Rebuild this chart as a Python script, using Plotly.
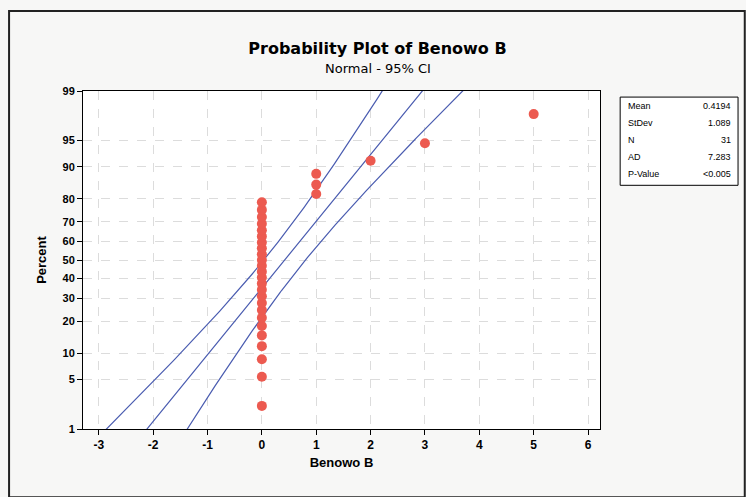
import math
import plotly.graph_objects as go

# ---- data (Benowo B, N = 31) ----
benowo_b = [0] * 25 + [1, 1, 1, 2, 3, 5]
y_tick_percent = [1, 5, 10, 20, 30, 40, 50, 60, 70, 80, 90, 95, 99]
x_tick_vals = [-3, -2, -1, 0, 1, 2, 3, 4, 5, 6]
stats_labels = ["Mean", "StDev", "N", "AD", "P-Value"]
stats_values = ["0.4194", "1.089", "31", "7.283", "<0.005"]


def norm_ppf(p):
    lo, hi = -10.0, 10.0
    for _ in range(100):
        mid = (lo + hi) / 2
        if 0.5 * (1 + math.erf(mid / math.sqrt(2))) < p:
            lo = mid
        else:
            hi = mid
    return (lo + hi) / 2


n = len(benowo_b)
data = sorted(benowo_b)
mean = sum(data) / n
sd = math.sqrt(sum((v - mean) ** 2 for v in data) / (n - 1))
# median-rank plotting positions
pp = [(i - 0.3) / (n + 0.4) for i in range(1, n + 1)]
pz = [norm_ppf(p) for p in pp]

zgrid = [-2.8 + 5.6 * k / 200 for k in range(201)]
fit_x = [mean + sd * z for z in zgrid]
se = [sd * math.sqrt(1 / n + z * z / (2 * n)) for z in zgrid]
lo_x = [f - 1.96 * s for f, s in zip(fit_x, se)]
hi_x = [f + 1.96 * s for f, s in zip(fit_x, se)]

blue = "#4a5cb0"
fig = go.Figure()
for xs in (lo_x, fit_x, hi_x):
    fig.add_trace(go.Scatter(x=xs, y=zgrid, mode="lines",
                             line=dict(color=blue, width=1.2),
                             hoverinfo="skip", showlegend=False))
fig.add_trace(go.Scatter(x=data, y=pz, mode="markers",
                         marker=dict(color="#ec5a50", size=10, line=dict(width=0)),
                         showlegend=False))

zt = norm_ppf(0.99)
fig.update_layout(
    width=746, height=497,
    margin=dict(l=83, r=146, t=91, b=68),
    paper_bgcolor="#f7f7f6",
    plot_bgcolor="white",
    font=dict(family="Liberation Sans, Arial, sans-serif", color="black"),
    xaxis=dict(range=[-3.29, 6.22], tickvals=x_tick_vals,
               ticktext=[f"<b>{v}</b>" for v in x_tick_vals],
               ticks="outside", ticklen=5, tickcolor="black", automargin=False,
               showline=True, linecolor="black", linewidth=1, mirror=True,
               showgrid=True, gridcolor="#dcdcdc", griddash="dash", gridwidth=1,
               zeroline=False, tickfont=dict(size=12),
               title=dict(text="<b>Benowo B</b>", font=dict(size=13), standoff=6)),
    yaxis=dict(range=[-zt, zt], tickvals=[norm_ppf(p / 100) for p in y_tick_percent],
               ticktext=[f"<b>{p}</b>" for p in y_tick_percent],
               ticks="outside", ticklen=5, tickcolor="black", automargin=False,
               showline=True, linecolor="black", linewidth=1, mirror=True,
               showgrid=True, gridcolor="#dcdcdc", griddash="dash", gridwidth=1,
               zeroline=False, tickfont=dict(size=11),
               title=dict(text="<b>Percent</b>", font=dict(size=13), standoff=12)),
    title=dict(text="<b>Probability Plot of Benowo B</b>", x=0.506, xanchor="center",
               y=0.903, yanchor="middle",
               font=dict(size=16, family="DejaVu Sans, Verdana, sans-serif")),
    shapes=[
        dict(type="rect", xref="paper", yref="paper", x0=-0.143, x1=1.280, y0=-0.202, y1=1.237,
             line=dict(color="#222222", width=2)),
        dict(type="rect", xref="paper", yref="paper", x0=1.039, x1=1.267, y0=0.721, y1=0.982,
             line=dict(color="black", width=1), fillcolor="white"),
    ],
)
fig.add_annotation(text="Normal - 95% CI", xref="paper", yref="paper", x=0.57, y=1.068,
                   showarrow=False, font=dict(size=13, family="DejaVu Sans, Verdana, sans-serif"),
                   xanchor="center", yanchor="middle")
for i, (lab, val) in enumerate(zip(stats_labels, stats_values)):
    yy = 0.955 - i * 0.05
    fig.add_annotation(text=lab, xref="paper", yref="paper", x=1.05, y=yy, showarrow=False,
                       xanchor="left", yanchor="middle", font=dict(size=9))
    fig.add_annotation(text=val, xref="paper", yref="paper", x=1.258, y=yy, showarrow=False,
                       xanchor="right", yanchor="middle", font=dict(size=9))

fig.write_html("out.html", config={"displayModeBar": False},
               post_script="document.body.style.margin='0';")
